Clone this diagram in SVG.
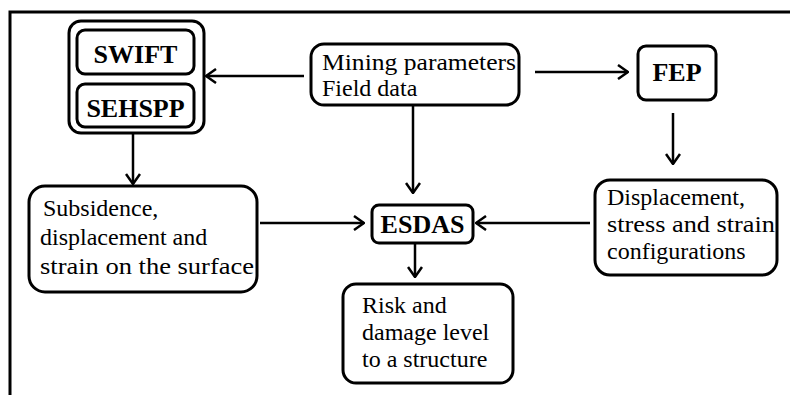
<svg xmlns="http://www.w3.org/2000/svg" width="790" height="395" viewBox="0 0 790 395">
<defs>
<style>
.box{fill:#fff;stroke:#000;stroke-width:3}
.t{font-family:"Liberation Serif","Times New Roman",serif;font-size:24px;fill:#000}
.b{font-weight:bold;font-size:26px}
.c line{stroke:#000;stroke-width:2.5;marker-end:url(#ah)}
</style>
<marker id="ah" viewBox="0 0 12 16" refX="11" refY="8" markerWidth="12" markerHeight="16" orient="auto" markerUnits="userSpaceOnUse">
<path d="M1,1 L11,8 L1,15" fill="none" stroke="#000" stroke-width="2.5"/>
</marker>
</defs>
<rect width="790" height="395" fill="#fff"/>
<path d="M10,395 V12 H790" fill="none" stroke="#000" stroke-width="3"/>

<g id="models">
<rect class="box" x="69" y="21" width="135" height="112" rx="12"/>
<g id="swift">
<rect class="box" x="77" y="30" width="117" height="44" rx="8"/>
<text class="t b" x="135.5" y="63" text-anchor="middle">SWIFT</text>
</g>
<g id="sehspp">
<rect class="box" x="77" y="84" width="117" height="43" rx="8"/>
<text class="t b" x="135.5" y="117" text-anchor="middle">SEHSPP</text>
</g>
</g>

<g id="mining">
<rect class="box" x="311" y="44" width="208" height="61" rx="13"/>
<text class="t" x="322" y="70" textLength="194" lengthAdjust="spacingAndGlyphs">Mining parameters</text>
<text class="t" x="322" y="96">Field data</text>
</g>

<g id="fep">
<rect class="box" x="638" y="46" width="78" height="54" rx="8"/>
<text class="t b" x="677" y="81" text-anchor="middle">FEP</text>
</g>

<g id="subsidence">
<rect class="box" x="29" y="186" width="228" height="106" rx="16"/>
<text class="t" x="43" y="216">Subsidence,</text>
<text class="t" x="40" y="245">displacement and</text>
<text class="t" x="40" y="274" textLength="214" lengthAdjust="spacingAndGlyphs">strain on the surface</text>
</g>

<g id="esdas">
<rect class="box" x="372" y="205" width="101" height="38" rx="7"/>
<text class="t b" x="422.5" y="233" text-anchor="middle">ESDAS</text>
</g>

<g id="displacement">
<rect class="box" x="595" y="180" width="182" height="95" rx="15"/>
<text class="t" x="607" y="205">Displacement,</text>
<text class="t" x="607" y="232" textLength="168" lengthAdjust="spacingAndGlyphs">stress and strain</text>
<text class="t" x="607" y="259">configurations</text>
</g>

<g id="risk">
<rect class="box" x="343" y="284" width="170" height="99" rx="13"/>
<text class="t" x="362" y="313">Risk and</text>
<text class="t" x="362" y="340">damage level</text>
<text class="t" x="362" y="367">to a structure</text>
</g>

<g id="connectors" class="c">
<line x1="304" y1="76" x2="206" y2="76"/>
<line x1="535" y1="72" x2="628" y2="72"/>
<line x1="413" y1="106" x2="413" y2="193"/>
<line x1="673" y1="113" x2="673" y2="164"/>
<line x1="133" y1="133" x2="133" y2="184"/>
<line x1="260" y1="223" x2="364" y2="223"/>
<line x1="590" y1="223" x2="476" y2="223"/>
<line x1="415" y1="243" x2="415" y2="277"/>
</g>
</svg>
